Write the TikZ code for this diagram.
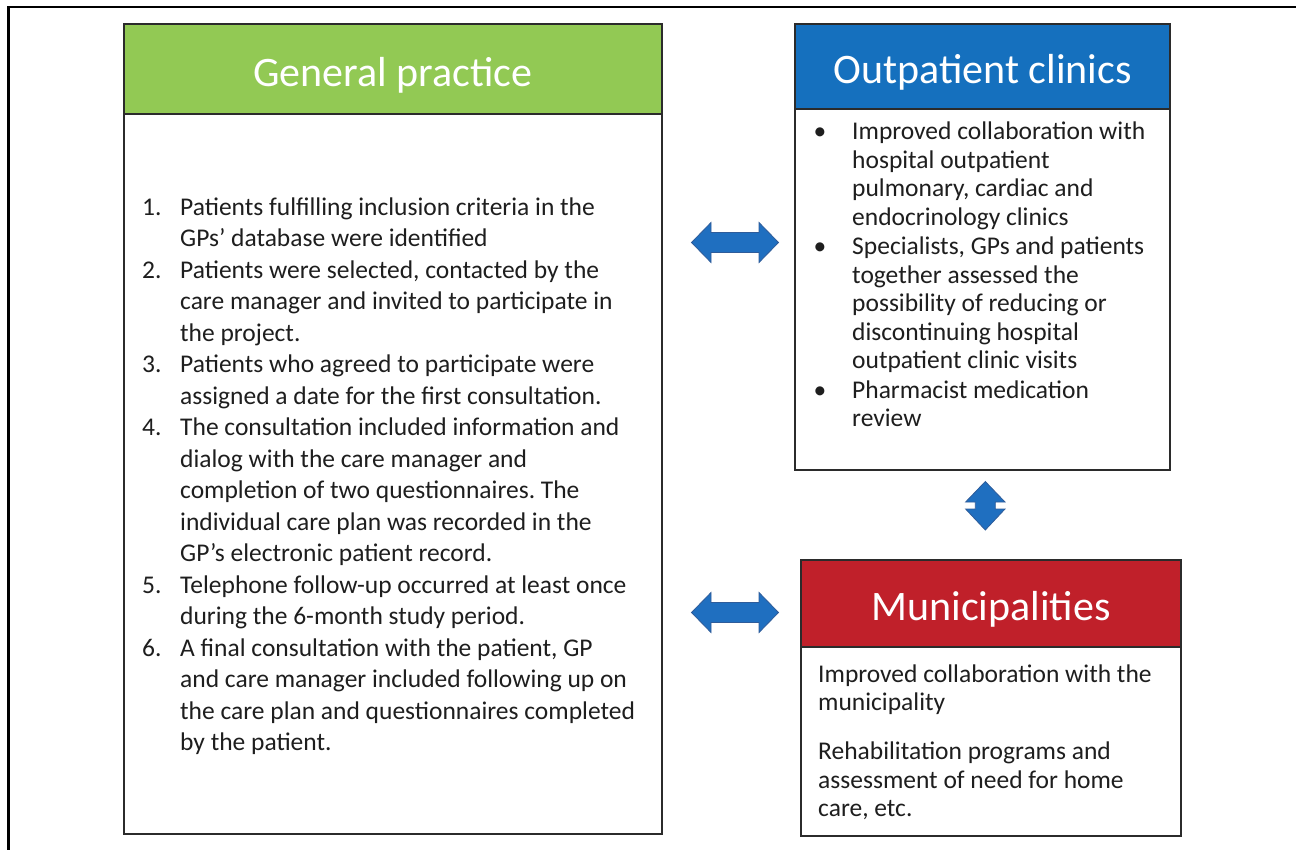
\documentclass[tikz,border=0pt]{standalone}
\usepackage{fontspec}
\setmainfont{Carlito}
\usetikzlibrary{calc}
\definecolor{gpgreen}{HTML}{92C954}
\definecolor{opblue}{HTML}{1570BE}
\definecolor{mured}{HTML}{C0202A}
\definecolor{edge}{HTML}{2B2B2B}
\definecolor{arrowfill}{HTML}{1F6FC0}
\definecolor{arrowedge}{HTML}{2E5C9A}
\definecolor{txt}{HTML}{1E1E1E}
\frenchspacing
\begin{document}
\begin{tikzpicture}[x=1pt,y=-1pt,
  hdr/.style={draw=edge, line width=1.8pt, inner sep=0pt, text=white,
    text height=34pt, text depth=0pt,
    font=\fontsize{42}{50}\selectfont},
  bodybox/.style={draw=edge, line width=1.8pt, fill=white, inner sep=0pt},
  gptext/.style={anchor=base west, align=left, inner sep=0pt, text=txt,
    font=\fontsize{25.5}{31.5}\selectfont},
  optext/.style={anchor=base west, align=left, inner sep=0pt, text=txt,
    font=\fontsize{25.5}{28.5}\selectfont},
  blockarrow/.style={fill=arrowfill, draw=arrowedge, line width=0.8pt, line join=miter}
]
\useasboundingbox (0,0) rectangle (1296,849);
\clip (0,0) rectangle (1296,849);
% outer frame (cropped)
\draw[line width=2.2pt] (8.5,870) -- (8.5,7) -- (1320,7);

% General practice
\node[bodybox, minimum width=538, minimum height=720] (gpb) at (393,474) {};
\node[hdr, fill=gpgreen, minimum width=538, minimum height=90] (gph) at (393,69) {General practice};
\foreach \n/\y in {1/215,2/278,3/372.5,4/435.5,5/593,6/656}{
  \node[gptext] (gpn\n) at (142,\y) {\n.};
}
% anchors are at the baseline of the last line of each item
\node[gptext] (gp1) at (180,246.5) {Patients fulfilling inclusion criteria in the\\GPs’ database were identified};
\node[gptext] (gp2) at (180,341) {Patients were selected, contacted by the\\care manager and invited to participate in\\the project.};
\node[gptext] (gp3) at (180,404) {Patients who agreed to participate were\\assigned a date for the first consultation.};
\node[gptext] (gp4) at (180,561.5) {The consultation included information and\\dialog with the care manager and\\completion of two questionnaires. The\\individual care plan was recorded in the\\GP’s electronic patient record.};
\node[gptext] (gp5) at (180,624.5) {Telephone follow-up occurred at least once\\during the 6-month study period.};
\node[gptext] (gp6) at (180,750.5) {A final consultation with the patient, GP\\and care manager included following up on\\the care plan and questionnaires completed\\by the patient.};

% Outpatient clinics
\node[bodybox, minimum width=375, minimum height=361] (opb) at (982.5,289.5) {};
\node[hdr, fill=opblue, minimum width=375, minimum height=85] (oph) at (982.5,66.5) {Outpatient clinics};
\foreach \n/\y in {1/139.5,2/254.5,3/398}{
  \node[optext, anchor=base] (opd\n) at (820,\y) {•};
}
\node[optext] (op1) at (852,225) {Improved collaboration with\\hospital outpatient\\pulmonary, cardiac and\\endocrinology clinics};
\node[optext] (op2) at (852,368.5) {Specialists, GPs and patients\\together assessed the\\possibility of reducing or\\discontinuing hospital\\outpatient clinic visits};
\node[optext] (op3) at (852,426.5) {Pharmacist medication\\review};

% Municipalities
\node[bodybox, minimum width=380, minimum height=189] (mub) at (991,741.5) {};
\node[hdr, fill=mured, minimum width=380, minimum height=87] (muh) at (991,603.5) {Municipalities};
\node[optext] (mu1) at (818,710.5) {Improved collaboration with the\\municipality};
\node[optext] (mu2) at (818,816.5) {Rehabilitation programs and\\assessment of need for home\\care, etc.};

% block arrows
\coordinate (a1) at (735,242.5);
\coordinate (a2) at (735,612.5);
\coordinate (a3) at (985.3,506);
\foreach \c in {a1,a2}{
  \draw[blockarrow] ($(\c)+(-43.5,0)$) -- ++(19.5,-20) -- ++(0,10) -- ++(48,0) -- ++(0,-10)
    -- ++(19.5,20) -- ++(-19.5,20) -- ++(0,-10) -- ++(-48,0) -- ++(0,10) -- cycle;
}
\draw[blockarrow] ($(a3)+(0,-24.5)$) -- ++(19.7,20.5) -- ++(-9.7,0) -- ++(0,7) -- ++(9.7,0)
  -- ++(-19.7,21) -- ++(-19.7,-21) -- ++(9.7,0) -- ++(0,-7) -- ++(-9.7,0) -- cycle;
\end{tikzpicture}
\end{document}
